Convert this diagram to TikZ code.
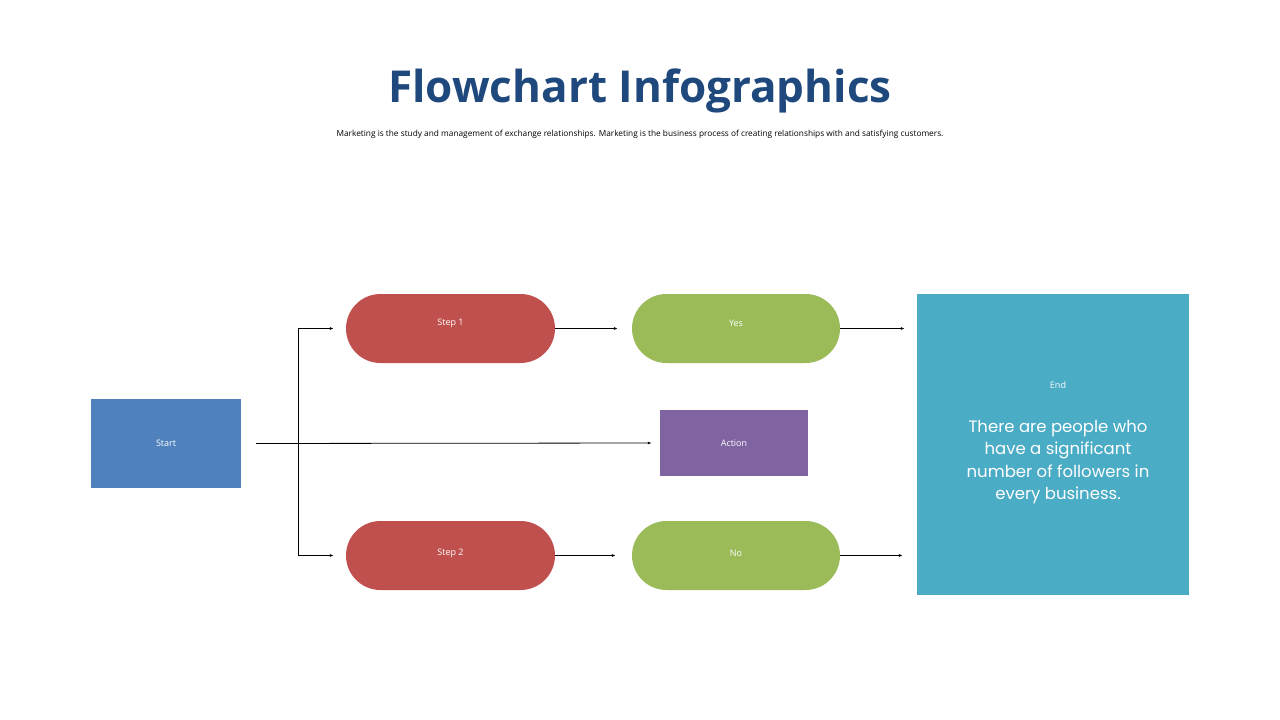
\documentclass[tikz,border=0pt]{standalone}
\usepackage{fontspec}
\setmainfont{Open Sans}
\newfontfamily\gothic{Poppins}
\usetikzlibrary{arrows.meta}
\definecolor{cblue}{HTML}{4F81BD}
\definecolor{cred}{HTML}{C0504D}
\definecolor{cgreen}{HTML}{9BBB59}
\definecolor{cpurple}{HTML}{8064A2}
\definecolor{cteal}{HTML}{4BACC6}
\definecolor{ctitle}{HTML}{1F497D}
\tikzset{
  box/.style={fill=#1,draw=none,text=white,font=\fontsize{9}{11}\selectfont,inner sep=0pt},
  pill/.style={box=#1,rounded corners=34.5pt,minimum width=209pt,minimum height=69pt},
  link/.style={-{Latex[length=4pt,width=3pt]},line width=0.8pt}
}
\begin{document}
\begin{tikzpicture}[x=1pt,y=-1pt]
    \useasboundingbox (0,0) rectangle (1280,720);
    \node[text=ctitle,font=\fontsize{44}{50}\selectfont\bfseries] (title) at (640,91) {Flowchart Infographics};
    \node[font=\fontsize{8.3}{10}\selectfont] (sub) at (640,134) {Marketing is the study and management of exchange relationships. Marketing is the business process of creating relationships with and satisfying customers.};

    \node[box=cblue,minimum width=150pt,minimum height=89pt] (start) at (166,443.5) {Start};
    \node[pill=cred] (step1) at (450.5,328.5) {};
    \node[box=cred] at (450.5,323) {Step 1};
    \node[pill=cgreen,minimum width=208pt] (yes) at (736,328.5) {};
    \node[box=cgreen] at (736,323) {Yes};
    \node[box=cpurple,minimum width=148pt,minimum height=66pt] (action) at (734,443) {Action};
    \node[pill=cred] (step2) at (450.5,555.5) {};
    \node[box=cred] at (450.5,553) {Step 2};
    \node[pill=cgreen,minimum width=208pt] (no) at (736,555.5) {};
    \node[box=cgreen] at (736,553) {No};
    \node[box=cteal,minimum width=272pt,minimum height=301pt] (end) at (1053,444.5) {};
    \node[text=white,font=\fontsize{9}{11}\selectfont] (endlabel) at (1058,385) {End};
    \node[text=white,align=center,font=\gothic\fontsize{16.5}{22.5}\selectfont] (endtext) at (1058,462) {There are people who\\have a significant\\number of followers in\\every business.};

    \coordinate (fork) at (298,443);
    \draw[link,shorten <=15pt,shorten >=8pt] (start.east) -- (action.west);
    \draw[link,shorten >=12pt] (fork) |- (step1.west);
    \draw[link,shorten >=12pt] (fork) |- (step2.west);
    \draw[link,shorten >=14pt] (step1.east) -- (yes.west);
    \draw[link,shorten >=16pt] (step2.east) -- (no.west);
    \draw[link,shorten >=12pt] (yes.east) -- (end.west|-yes.east);
    \draw[link,shorten >=14pt] (no.east) -- (end.west|-no.east);
\end{tikzpicture}
\end{document}
